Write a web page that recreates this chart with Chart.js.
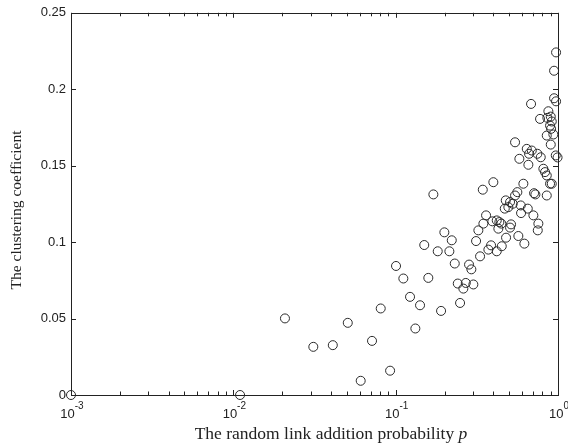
<!DOCTYPE html>
<html lang="en">
<head>
    <meta charset="UTF-8">
    <title>Clustering coefficient vs random link addition probability</title>
    <script src="https://cdn.jsdelivr.net/npm/chart.js@4.4.0/dist/chart.umd.min.js"></script>
    <style>
        * { margin: 0; padding: 0; box-sizing: border-box; }
        body { background: #fff; width: 568px; height: 447px; overflow: hidden; }
        .wrap { position: relative; width: 568px; height: 447px; }
    </style>
</head>
<body>
    <div class="wrap">
        <canvas id="scatterChart" width="568" height="447"></canvas>
    </div>

    <script>
        // values
        const probability = [
            0.001, 0.011, 0.0208, 0.0311, 0.041, 0.0507, 0.0609, 0.0715, 0.0809, 0.0924,
            0.1005, 0.1115, 0.1226, 0.1322, 0.1413, 0.150, 0.1589, 0.1707, 0.1816, 0.1904,
            0.1995, 0.2142, 0.2216, 0.2312, 0.2413, 0.2493, 0.2612, 0.2703, 0.2832, 0.2926,
            0.301, 0.3128, 0.3232, 0.3311, 0.344, 0.347, 0.3605, 0.3724, 0.3869, 0.3941,
            0.3997, 0.4194, 0.4194, 0.4291, 0.4353, 0.4478, 0.4503, 0.4699, 0.4766, 0.4786,
            0.4945, 0.5066, 0.5066, 0.5138, 0.5263, 0.5438, 0.5438, 0.5618, 0.5698, 0.5781,
            0.5897, 0.5923, 0.6119, 0.6206, 0.6421, 0.6513, 0.6569, 0.6634, 0.6893, 0.7052,
            0.7122, 0.7255, 0.7463, 0.7506, 0.757, 0.7829, 0.8125, 0.8322, 0.8526, 0.8526,
            0.8934, 0.9023, 0.9153, 0.9687, 0.9938,
            0.973, 0.9459, 0.9459, 0.973, 0.6823, 0.8723, 0.9023, 0.86, 0.7752, 0.9153,
            0.8934, 0.9063, 0.8526, 0.9365
        ];
        const clustering = [
            0, 0, 0.0501, 0.0315, 0.0326, 0.0472, 0.0093, 0.0354, 0.0566, 0.0159,
            0.0844, 0.0762, 0.0642, 0.0435, 0.0587, 0.0981, 0.0766, 0.1312, 0.094, 0.055,
            0.1064, 0.094, 0.1012, 0.086, 0.0729, 0.0602, 0.0696, 0.0733, 0.0853, 0.0822,
            0.0723, 0.1007, 0.1077, 0.0907, 0.1343, 0.1121, 0.1175, 0.0951, 0.0979, 0.1136,
            0.1392, 0.1142, 0.094, 0.1088, 0.1131, 0.1121, 0.0973, 0.1219, 0.1273, 0.1029,
            0.1229, 0.1262, 0.1095, 0.1116, 0.1251, 0.1305, 0.1653, 0.1327, 0.104, 0.1545,
            0.124, 0.119, 0.1382, 0.099, 0.161, 0.1219, 0.1506, 0.1578, 0.1599, 0.1175,
            0.132, 0.1312, 0.1578, 0.1077, 0.1121, 0.1555, 0.148, 0.1458, 0.1436, 0.1305,
            0.1382, 0.1638, 0.1382, 0.1567, 0.1554,
            0.2241, 0.2121, 0.1941, 0.1921, 0.1904, 0.1856, 0.1821, 0.1813, 0.1806, 0.1789,
            0.1762, 0.1741, 0.1697, 0.1704
        ];
        const yTicks = [0, 0.05, 0.1, 0.15, 0.2, 0.25];
        const xDecades = [-3, -2, -1, 0];
        const xTitle = 'The random link addition probability ';
        const xTitleVar = 'p';
        const yTitle = 'The clustering coefficient';

        const ink = '#222';
        const tickFont = '13px "Liberation Sans", Arial, sans-serif';
        const supFont = '10px "Liberation Sans", Arial, sans-serif';
        const xTitleFont = '17.5px "Liberation Serif", "Times New Roman", serif';
        const yTitleFont = '15.5px "Liberation Serif", "Times New Roman", serif';

        // box, inward ticks, log labels and axis titles, MATLAB style
        const frame = {
            id: 'frame',
            afterDraw(chart) {
                const ctx = chart.ctx;
                const a = chart.chartArea;
                const xs = chart.scales.x;
                const ys = chart.scales.y;
                ctx.save();
                ctx.strokeStyle = ink;
                ctx.lineWidth = 1;
                ctx.strokeRect(Math.round(a.left) + 0.5, Math.round(a.top) + 0.5,
                    Math.round(a.right - a.left), Math.round(a.bottom - a.top));

                ctx.beginPath();
                // y ticks, left and right
                yTicks.forEach(v => {
                    const y = Math.round(ys.getPixelForValue(v)) + 0.5;
                    ctx.moveTo(a.left, y); ctx.lineTo(a.left + 5, y);
                    ctx.moveTo(a.right, y); ctx.lineTo(a.right - 5, y);
                });
                // x ticks: decades and minor ticks
                xDecades.forEach((d, i) => {
                    for (let m = 1; m <= 9; m++) {
                        if (i === xDecades.length - 1 && m > 1) break;
                        const x = Math.round(xs.getPixelForValue(m * Math.pow(10, d))) + 0.5;
                        const len = m === 1 ? 5 : 3.5;
                        ctx.moveTo(x, a.bottom); ctx.lineTo(x, a.bottom - len);
                        ctx.moveTo(x, a.top); ctx.lineTo(x, a.top + len);
                    }
                });
                ctx.stroke();

                // x tick labels 10^d
                ctx.fillStyle = ink;
                ctx.textBaseline = 'alphabetic';
                xDecades.forEach(d => {
                    const x = xs.getPixelForValue(Math.pow(10, d));
                    ctx.font = tickFont;
                    const w1 = ctx.measureText('10').width;
                    ctx.font = supFont;
                    const sup = String(d);
                    const w2 = ctx.measureText(sup).width;
                    const start = x - (w1 + w2) / 2 + 1;
                    ctx.font = tickFont;
                    ctx.textAlign = 'left';
                    ctx.fillText('10', start, a.bottom + 23);
                    ctx.font = supFont;
                    ctx.fillText(sup, start + w1, a.bottom + 14);
                });

                // x title with italic p
                ctx.font = xTitleFont;
                const wMain = ctx.measureText(xTitle).width;
                ctx.font = 'italic ' + xTitleFont;
                const wVar = ctx.measureText(xTitleVar).width;
                const tx = 331 - (wMain + wVar) / 2;
                ctx.font = xTitleFont;
                ctx.fillText(xTitle, tx, a.bottom + 44);
                ctx.font = 'italic ' + xTitleFont;
                ctx.fillText(xTitleVar, tx + wMain, a.bottom + 44);

                // y title, rotated
                ctx.translate(21, 210);
                ctx.rotate(-Math.PI / 2);
                ctx.font = yTitleFont;
                ctx.textAlign = 'center';
                ctx.fillText(yTitle, 0, 0);
                ctx.restore();
            }
        };

        new Chart(document.getElementById('scatterChart'), {
            type: 'scatter',
            data: {
                datasets: [{
                    data: probability.map((p, i) => ({ x: p, y: clustering[i] })),
                    pointStyle: 'circle',
                    pointRadius: 4.5,
                    borderWidth: 1,
                    borderColor: '#2a2a2a',
                    backgroundColor: 'rgba(0,0,0,0)',
                    clip: false
                }]
            },
            options: {
                responsive: false,
                animation: false,
                layout: { padding: { top: 12, right: 10, left: 0, bottom: 0 } },
                plugins: { legend: { display: false }, tooltip: { enabled: false } },
                scales: {
                    x: {
                        type: 'logarithmic',
                        min: 0.001,
                        max: 1,
                        grid: { display: false },
                        border: { display: false },
                        ticks: { display: false },
                        afterFit: s => { s.height = 52; }
                    },
                    y: {
                        min: 0,
                        max: 0.25,
                        grid: { display: false, drawTicks: false },
                        border: { display: false },
                        ticks: {
                            stepSize: 0.05,
                            padding: 5,
                            color: ink,
                            font: { family: '"Liberation Sans", Arial, sans-serif', size: 13 },
                            callback: v => String(+v.toFixed(2))
                        },
                        afterFit: s => { s.width = 71; }
                    }
                }
            },
            plugins: [frame]
        });
    </script>
</body>
</html>
